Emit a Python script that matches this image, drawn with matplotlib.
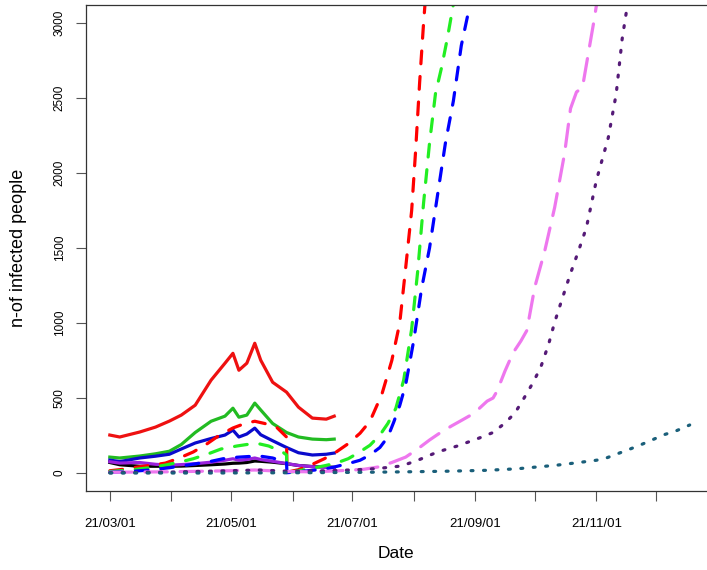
import pandas as pd
import matplotlib.pyplot as plt
import matplotlib.dates as mdates

plt.rcParams['font.family'] = ['Liberation Sans', 'DejaVu Sans']

start = pd.Timestamp('2021-03-01')

# Observed counts (days since 2021-03-01)
obs_day = [0, 5, 15, 23, 30, 36, 43, 51, 58, 62, 65, 69, 73, 76, 82, 89, 95, 102, 109, 113]
red_obs = [253, 240, 273, 306, 346, 386, 452, 619, 732, 798, 685, 732, 865, 752, 605, 539, 439, 366, 359, 379]
green_obs = [106, 100, 113, 128, 145, 190, 270, 345, 379, 432, 372, 386, 466, 420, 330, 270, 240, 226, 222, 226]
blue_obs = [86, 76, 100, 112, 125, 160, 200, 230, 253, 286, 240, 260, 299, 255, 215, 170, 135, 120, 125, 133]
black_obs = [70, 55, 45, 45, 45, 46, 50, 55, 60, 65, 66, 70, 80, 78, 72, 62, 50, 43, 40, 38]
purple_obs = [75, 66, 70, 58, 52, 56, 62, 72, 85, 95, 85, 90, 100, 90, 78, 63, 50, 42, 38, 36]

# Model curves (days since 2021-03-01)
red_fit_day = [0, 7, 14, 21, 28, 35, 42, 49, 55, 62, 68, 73, 78, 84, 89, 89.2, 95, 102, 108, 114, 120, 126,
               131, 137, 142, 146, 149, 152, 154, 156, 158, 160]
red_fit = [15, 25, 40, 52, 66, 100, 140, 195, 250, 300, 330, 345, 330, 305, 240, 5, 22, 58, 95, 140, 195, 265,
           345, 525, 750, 1000, 1370, 1750, 2150, 2600, 3000, 3350]

green_fit_day = [0, 10, 20, 28, 35, 42, 50, 56, 64, 70, 75, 80, 87, 89, 89.2, 95, 102, 108, 114, 120, 125, 131,
                 136, 140, 144, 148, 152, 155, 158, 161, 164, 167, 170, 172, 174]
green_fit = [10, 20, 35, 53, 72, 95, 130, 160, 180, 192, 195, 180, 140, 120, 3, 15, 32, 48, 66, 95, 133, 185,
             253, 330, 430, 620, 960, 1340, 1800, 2200, 2530, 2700, 2900, 3050, 3200]

blue_fit_day = [0, 10, 20, 30, 40, 50, 57, 64, 70, 76, 82, 87, 89, 89.2, 95, 102, 110, 117, 122, 126, 131, 136,
                140, 143, 146, 149, 153, 157, 161, 165, 169, 173, 177, 181, 183]
blue_fit = [5, 10, 20, 35, 55, 75, 95, 105, 110, 112, 100, 80, 70, 2, 8, 18, 30, 53, 70, 85, 120, 170,
            240, 340, 450, 590, 880, 1230, 1500, 1850, 2200, 2480, 2850, 3100, 3250]

violet_fit_day = [0, 30, 60, 73, 89, 100, 110, 120, 128, 135, 142, 149, 155, 161, 166, 172, 177, 181, 186, 190,
                  193, 195, 199, 203, 207, 210, 214, 219, 224, 229, 232, 235, 238, 241, 244, 246]
violet_fit = [5, 8, 15, 20, 10, 8, 12, 18, 25, 40, 70, 106, 160, 220, 265, 313, 350, 380, 430, 479,
              500, 546, 680, 800, 880, 950, 1240, 1480, 1770, 2130, 2430, 2540, 2570, 2800, 3030, 3200]

indigo_fit_day = [0, 30, 60, 75, 90, 110, 125, 135, 147, 156, 165, 175, 186, 193, 199, 204, 208, 213, 217, 221,
                  224, 228, 232, 236, 240, 245, 251, 255, 258, 261]
indigo_fit = [2, 6, 15, 20, 12, 15, 22, 30, 47, 90, 140, 180, 233, 270, 333, 400, 486, 600, 705, 860,
              1005, 1170, 1331, 1480, 1637, 1950, 2235, 2528, 2894, 3150]

teal_fit_day = [0, 50, 100, 130, 150, 170, 190, 205, 215, 225, 235, 245, 250, 256, 262, 267, 273, 279, 285, 292]
teal_fit = [0, 0, 2, 5, 8, 12, 18, 28, 40, 52, 68, 85, 100, 130, 160, 186, 220, 255, 280, 320]


def to_dates(days):
    return start + pd.to_timedelta(days, unit='D')


fig = plt.figure(figsize=(7.07, 5.70), dpi=100)
ax = fig.add_axes([0.1216, 0.1386, 0.9129, 0.8526])

lw = 2.3
ax.plot(to_dates(obs_day), red_obs, color='#EE1111', lw=lw)
ax.plot(to_dates(obs_day), green_obs, color='#22BB22', lw=lw)
ax.plot(to_dates(obs_day), blue_obs, color='#0A0ACC', lw=lw)
ax.plot(to_dates(obs_day), black_obs, color='black', lw=lw)
ax.plot(to_dates(obs_day), purple_obs, color='#9A22DD', lw=lw)

dash = dict(lw=lw, dash_capstyle='round')
ax.plot(to_dates(red_fit_day), red_fit, color='#FF0000', dashes=(4, 4), **dash)
ax.plot(to_dates(green_fit_day), green_fit, color='#22EE22', dashes=(4, 4), **dash)
ax.plot(to_dates(blue_fit_day), blue_fit, color='#0000FF', dashes=(4, 4), **dash)
ax.plot(to_dates(violet_fit_day), violet_fit, color='#EE77EE', dashes=(7, 4), **dash)
ax.plot(to_dates(indigo_fit_day), indigo_fit, color='#551A77', dashes=(0.6, 3.3), **dash)
ax.plot(to_dates(teal_fit_day), teal_fit, color='#1A5F7A', dashes=(0.6, 3.3), **dash)

ax.set_xlim(pd.Timestamp('2021-02-17'), pd.Timestamp('2022-01-08'))
ax.set_ylim(-120, 3120)

ax.xaxis.set_major_locator(mdates.MonthLocator(bymonth=[3, 5, 7, 9, 11]))
ax.xaxis.set_minor_locator(mdates.MonthLocator(bymonth=[4, 6, 8, 10, 12]))
ax.xaxis.set_major_formatter(mdates.DateFormatter('%y/%m/%d'))
ax.set_yticks([0, 500, 1000, 1500, 2000, 2500, 3000])

for s in ax.spines.values():
    s.set_color('#333333')
    s.set_linewidth(0.9)
ax.tick_params(axis='both', which='both', length=7.5, width=0.8, color='#555555')
ax.tick_params(axis='x', which='major', labelsize=9.5, pad=12)
ax.tick_params(axis='y', labelsize=8.5, pad=7)
for lab in ax.get_yticklabels():
    lab.set_rotation(90)
    lab.set_va('center')

fig.text(396 / 707, 1 - 554 / 570, 'Date', ha='center', va='center', fontsize=12.5)
fig.text(19 / 707, 1 - 248 / 570, 'n-of infected people', ha='center', va='center',
         rotation=90, fontsize=13)

fig.savefig('out.png', dpi=100)
